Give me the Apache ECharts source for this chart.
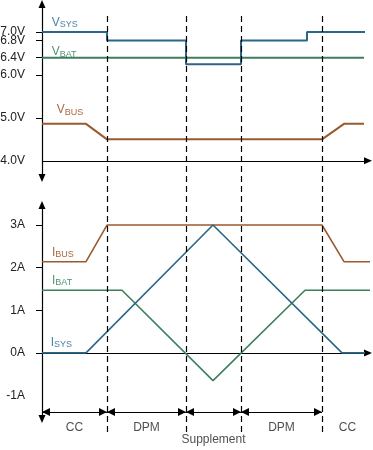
<!DOCTYPE html>
<html><head><meta charset="utf-8">
<script src="https://cdn.jsdelivr.net/npm/echarts@6/dist/echarts.min.js"></script>
<style>html,body{margin:0;padding:0;background:#fff;}#c{width:373px;height:450px;}</style>
</head><body><div id="c"></div>
<script>
// ---- data (time in arbitrary units, value) ----
const VSYS = [[0,7.0],[65,7.0],[65,6.8],[144,6.8],[144,6.25],[199,6.25],[199,6.8],[265,6.8],[265,7.0],[323,7.0]];
const VBAT = [[0,6.4],[322,6.4]];
const VBUS = [[0,4.86],[44,4.86],[65,4.5],[280,4.5],[302,4.86],[322,4.86]];
const IBUS = [[0,2.14],[44,2.14],[65,3.0],[280,3.0],[302,2.14],[328,2.14]];
const IBAT = [[0,1.47],[80,1.47],[171,-0.65],[263,1.47],[331,1.47]];
const ISYS = [[0,0],[44,0],[171,3.0],[300,0],[323,0]];
const V_LABELS = [6.8,4.0,5.0,6.0,6.4,7.0];
const V_TICKS = [5.0,6.0,6.4,6.8,7.0];
const I_LABELS = [-1,0,1,2,3];
const I_TICKS = [0,1,2,3];
const PHASES = ['CC','DPM','Supplement','DPM','CC'];
const PHASE_BOUNDS = [0,65,144,199,280,331];

// ---- styling ----
const FONT = "'Liberation Sans', Arial, sans-serif";
const BLUE = '#2b6688', GREEN = '#3b7f5e', BROWN = '#9a5a2e';
const BLUE_L = '#4a84a6', GREEN_L = '#4f9474', BROWN_L = '#a9683f';
const T_MAX = 326;
const ROW_Y = 0.048;

function subLabel(main, sub, color, at) {
  return {
    symbol: 'circle', symbolSize: 0, silent: true,
    data: [{ coord: at }],
    label: {
      show: true, position: 'right', distance: 0,
      formatter: '{m|' + main + '}{s|' + sub + '}',
      rich: {
        m: { fontSize: 12, color: color, fontFamily: FONT, lineHeight: 14 },
        s: { fontSize: 9, color: color, fontFamily: FONT, verticalAlign: 'bottom', lineHeight: 14 }
      }
    }
  };
}
function line(name, data, color, xi, yi, width, mp) {
  return {
    name, type: 'line', data, xAxisIndex: xi, yAxisIndex: yi,
    symbol: 'none', silent: true, animation: false,
    lineStyle: { color, width }, markPoint: mp
  };
}
function yAxesFor(gi, min, max, labels, ticks, fmt) {
  return [
    { type: 'value', gridIndex: gi, min, max, splitLine: { show: false },
      axisLine: { show: true, onZero: false, symbol: ['triangle','triangle'], symbolSize: [7,8], lineStyle: { color: '#000', width: 1.2 } },
      axisTick: { show: true, inside: false, length: 6, customValues: ticks, lineStyle: { color: '#000', width: 1 } },
      axisLabel: { show: true, customValues: labels, formatter: fmt, margin: 17, hideOverlap: false,
        showMinLabel: true, showMaxLabel: true, color: '#222', fontSize: 12, fontFamily: FONT } },
    { type: 'value', gridIndex: gi, min, max, splitLine: { show: false },
      axisLine: { show: false },
      axisTick: { show: true, inside: true, length: 6, customValues: ticks, lineStyle: { color: '#000', width: 1 } },
      axisLabel: { show: false } }
  ];
}

const arrowSegs = [];
const phaseLabels = [];
for (let i = 0; i < PHASES.length; i++) {
  arrowSegs.push([{ coord: [PHASE_BOUNDS[i], ROW_Y] }, { coord: [PHASE_BOUNDS[i+1], ROW_Y] }]);
  const wide = PHASES[i].length > 5;
  phaseLabels.push({
    value: [(PHASE_BOUNDS[i] + PHASE_BOUNDS[i+1]) / 2, ROW_Y], name: PHASES[i],
    label: { offset: [0, wide ? 28 : 16] }
  });
}

const chart = echarts.init(document.getElementById('c'), null, { renderer: 'canvas' });
chart.setOption({
  animation: false,
  backgroundColor: '#fff',
  textStyle: { fontFamily: FONT },
  grid: [
    { left: 42, top: 4, width: T_MAX, height: 174, outerBoundsMode: 'none', containLabel: false },
    { left: 42, top: 205, width: T_MAX, height: 214, outerBoundsMode: 'none', containLabel: false },
    { left: 42, top: 16, width: T_MAX, height: 416, outerBoundsMode: 'none', containLabel: false }
  ],
  xAxis: [
    { type: 'value', gridIndex: 0, min: 0, max: T_MAX, show: false },
    { type: 'value', gridIndex: 1, min: 0, max: T_MAX, splitLine: { show: false },
      axisLine: { show: true, onZero: true, symbol: ['none','triangle'], symbolSize: [7,8], lineStyle: { color: '#000', width: 1.2 } },
      axisTick: { show: false }, axisLabel: { show: false } },
    { type: 'value', gridIndex: 2, min: 0, max: T_MAX, show: false }
  ],
  yAxis: [
    ...yAxesFor(0, 3.6, 7.65, V_LABELS, V_TICKS, v => v.toFixed(1) + 'V'),
    ...yAxesFor(1, -1.55, 3.47, I_LABELS, I_TICKS, v => v + 'A'),
    { type: 'value', gridIndex: 2, min: 0, max: 1, show: false }
  ],
  series: [
    line('VBAT', VBAT, GREEN, 0, 0, 2, subLabel('V', 'BAT', GREEN_L, [9.7, 6.54])),
    line('VSYS', VSYS, BLUE, 0, 0, 2, subLabel('V', 'SYS', BLUE_L, [9.7, 7.22])),
    Object.assign(line('VBUS', VBUS, BROWN, 0, 0, 2, subLabel('V', 'BUS', BROWN_L, [14.7, 5.19])), {
      markLine: {
        silent: true, symbol: ['none','triangle'], symbolSize: [7,8],
        label: { show: false }, lineStyle: { color: '#000', width: 1.2, type: 'solid' },
        data: [[{ coord: [0, 4.0] }, { coord: [T_MAX, 4.0] }]]
      }
    }),
    line('IBUS', IBUS, BROWN, 1, 2, 1.6, subLabel('I', 'BUS', BROWN_L, [10, 2.36])),
    line('IBAT', IBAT, GREEN, 1, 2, 1.6, subLabel('I', 'BAT', GREEN_L, [10, 1.70])),
    line('ISYS', ISYS, BLUE, 1, 2, 1.6, subLabel('I', 'SYS', BLUE_L, [8.7, 0.25])),
    {
      name: 'phases', type: 'scatter', xAxisIndex: 2, yAxisIndex: 4,
      symbolSize: 0, silent: true, clip: false, animation: false,
      data: phaseLabels,
      label: { show: true, position: 'inside', formatter: p => p.name, color: '#222', fontSize: 12, fontFamily: FONT },
      markLine: {
        silent: true, animation: false,
        symbol: ['none','none'], label: { show: false },
        lineStyle: { color: '#000', width: 1.2, type: [6, 4] },
        data: PHASE_BOUNDS.slice(1, -1).map(b => ({ xAxis: b }))
      }
    },
    {
      name: 'phaseArrows', type: 'line', xAxisIndex: 2, yAxisIndex: 4, data: [],
      silent: true, animation: false,
      markLine: {
        silent: true, animation: false,
        symbol: ['triangle','triangle'], symbolSize: [8,8], symbolOffset: [[0,4],[0,4]],
        label: { show: false },
        lineStyle: { color: '#000', width: 1.2, type: 'solid' },
        itemStyle: { color: '#000' },
        data: arrowSegs
      }
    }
  ]
});
</script>
</body></html>
